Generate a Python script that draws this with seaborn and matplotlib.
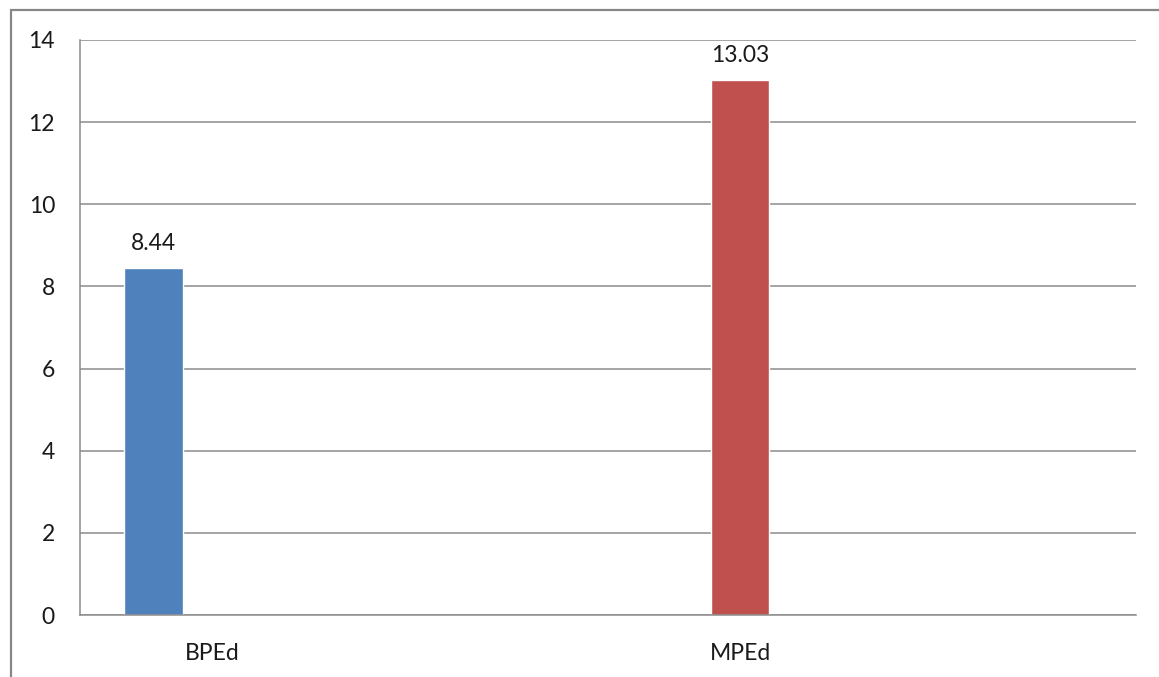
import matplotlib
matplotlib.use("Agg")
import matplotlib.pyplot as plt
from matplotlib.patches import Rectangle
import seaborn as sns
import pandas as pd

# Chart data
categories = ["BPEd", "slot2", "MPEd", "slot4"]
category_labels = ["BPEd", "", "MPEd", ""]
bar_categories = ["BPEd", "MPEd"]
bar_series = ["Series 1", "Series 2"]
series_levels = ["Series 1", "Series 2", "Series 3"]
values = [8.44, 13.03]
colors = ["#4F81BD", "#C0504D", "#9BBB59"]
y_ticks = [0, 2, 4, 6, 8, 10, 12, 14]

sns.set_theme(style="white")
plt.rcParams["font.family"] = ["Lato", "DejaVu Sans"]

df = pd.DataFrame({"category": bar_categories, "series": bar_series, "value": values})

fig = plt.figure(figsize=(11.59, 6.77), dpi=100)
ax = fig.add_axes([80 / 1159, 1 - 615 / 677, (1136 - 80) / 1159, (615 - 40) / 677])

sns.barplot(
    data=df, x="category", y="value", hue="series",
    order=categories, hue_order=series_levels,
    palette=colors, width=0.67, dodge=True, legend=False,
    saturation=1, ax=ax, errorbar=None,
)

for container in ax.containers:
    ax.bar_label(container, fmt="%.2f", padding=10, fontsize=16.5, color="#1a1a1a")

ax.set_xlim(-0.5, len(categories) - 0.5)
ax.set_ylim(0, 14)
ax.set_yticks(y_ticks)
ax.set_xlabel("")
ax.set_ylabel("")

# Horizontal gridlines
ax.yaxis.grid(True, color="#8c8c8c", linewidth=1.1)
ax.set_axisbelow(True)

# Category labels centred, tick marks at category boundaries
ax.set_xticks(range(len(categories)))
ax.set_xticklabels(category_labels)
ax.set_xticks([i - 0.5 for i in range(len(categories) + 1)], minor=True)
ax.tick_params(axis="x", which="major", length=0, pad=20, labelsize=16.5, labelcolor="#1a1a1a")
ax.tick_params(axis="x", which="minor", length=7, width=1.1, color="#8c8c8c", direction="out")
ax.tick_params(axis="y", which="major", length=6, width=1.1, color="#8c8c8c", direction="out",
               pad=12, labelsize=16.5, labelcolor="#1a1a1a")

for side in ["top", "right"]:
    ax.spines[side].set_visible(False)
for side in ["left", "bottom"]:
    ax.spines[side].set_color("#8c8c8c")
    ax.spines[side].set_linewidth(1.1)

# Outer chart frame
fig.patches.append(Rectangle((11 / 1159, -0.2), 1.2, 0.2 + 1 - 10 / 677,
                             transform=fig.transFigure, fill=False,
                             edgecolor="#878787", linewidth=1.6, clip_on=False))

fig.savefig("out.png", dpi=100, facecolor="white")
